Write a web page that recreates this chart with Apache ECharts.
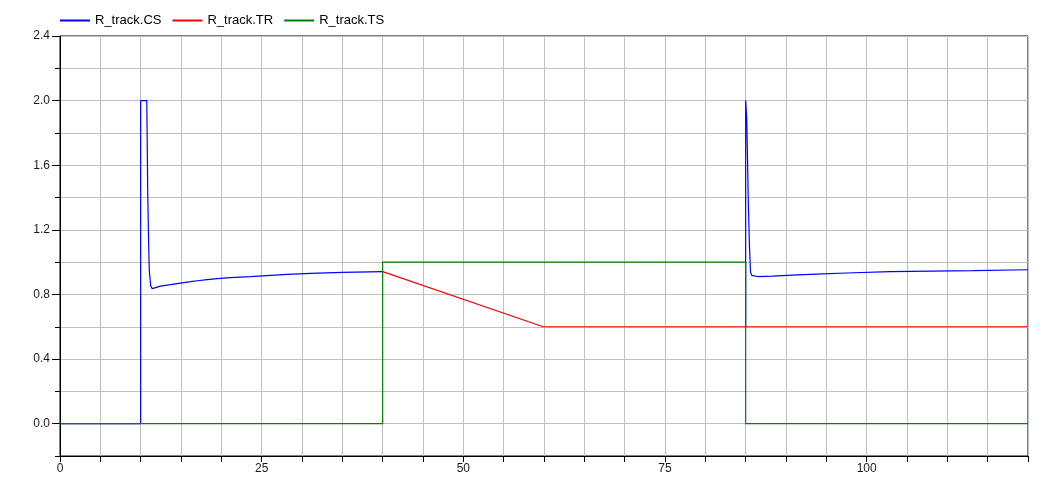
<!DOCTYPE html>
<html>
<head>
<meta charset="utf-8">
<script src="https://cdn.jsdelivr.net/npm/echarts@6/dist/echarts.min.js"></script>
<style>html,body{margin:0;padding:0;background:#fff}#c{width:1052px;height:481px}</style>
</head>
<body>
<div id="c"></div>
<script>
const seriesNames = ['R_track.CS', 'R_track.TR', 'R_track.TS'];
const seriesColors = ['#0000ff', '#ff0000', '#008000'];

// null marks where CS is hidden under TR (tracking segment)
const csTime = [0, 10, 10, 10.76, 10.8, 10.88, 10.99, 11.07, 11.25, 11.43, 11.6, 12.46, 13.7, 14.5, 15.35, 16.2, 17.0, 18.25, 19.5, 21.1, 23.6, 26.1, 28.2, 31.05, 35.0, 40.0,
  60.0, 85.0, 85.0, 85.13, 85.13, 85.22, 85.31, 85.47, 85.6, 85.75, 85.97, 86.5, 88.3, 90.8, 93.7, 97.5, 102.9, 113.2, 120];
const csValue = [0, 0, 2.0, 2.0, 1.80, 1.41, 1.12, 0.945, 0.852, 0.836, 0.838, 0.852, 0.861, 0.867, 0.873, 0.879, 0.885, 0.892, 0.898, 0.904, 0.910, 0.918, 0.924, 0.931, 0.937, 0.941,
  null, 0.6, 2.0, 2.0, 1.89, 1.67, 1.41, 1.10, 0.94, 0.918, 0.91, 0.911, 0.914, 0.920, 0.926, 0.933, 0.941, 0.947, 0.953];

const trTime = [40.0, 59.9, 120];
const trValue = [0.941, 0.6, 0.6];

const tsTime = [0, 40, 40, 85, 85, 120];
const tsValue = [0, 0, 1, 1, 0, 0];

const yLabelValues = [0, 0.4, 0.8, 1.2, 1.6, 2.0, 2.4];
const xLabelValues = [0, 25, 50, 75, 100];

function pairs(t, v) { return t.map((x, i) => (v[i] === null ? [x, '-'] : [x, v[i]])); }

const chart = echarts.init(document.getElementById('c'), null, { renderer: 'canvas' });
const labelFont = { color: '#1a1a1a', fontSize: 12, fontFamily: 'Liberation Sans, Arial, sans-serif' };

chart.setOption({
  animation: false,
  backgroundColor: '#ffffff',
  legend: {
    left: 60, top: 14, padding: 0,
    icon: 'rect', itemWidth: 30, itemHeight: 2, itemGap: 11,
    textStyle: { color: '#000', fontSize: 13, fontFamily: 'Liberation Sans, Arial, sans-serif' },
    data: seriesNames
  },
  grid: { left: 60, right: 24, top: 36, bottom: 25, show: true, borderColor: '#000', borderWidth: 1 },
  xAxis: {
    type: 'value', min: 0, max: 120, interval: 5,
    axisLine: { show: true, onZero: false, lineStyle: { color: '#000', width: 1 } },
    axisTick: { show: true, inside: false, length: 6, lineStyle: { color: '#000' } },
    axisLabel: Object.assign({ margin: 7, formatter: v => (xLabelValues.indexOf(v) >= 0 ? String(v) : '') }, labelFont),
    splitLine: { show: true, lineStyle: { color: '#c0c0c0', width: 1 } }
  },
  yAxis: [{
    type: 'value', min: -0.2, max: 2.4, interval: 0.2,
    axisLine: { show: true, onZero: false, lineStyle: { color: '#000', width: 1 } },
    axisTick: { show: true, inside: false, length: 5, lineStyle: { color: '#000' } },
    axisLabel: { show: false },
    splitLine: { show: true, lineStyle: { color: '#c0c0c0', width: 1 } }
  }, {
    type: 'value', min: -0.2, max: 2.4, position: 'left',
    axisLine: { show: false, onZero: false },
    axisTick: { show: true, inside: false, length: 8, customValues: yLabelValues, lineStyle: { color: '#000' } },
    axisLabel: Object.assign({ margin: 10, customValues: yLabelValues, formatter: v => v.toFixed(1) }, labelFont),
    splitLine: { show: false }
  }],
  series: [
    { name: seriesNames[0], type: 'line', data: pairs(csTime, csValue), showSymbol: false, symbol: 'none', connectNulls: false, color: seriesColors[0], lineStyle: { width: 1.2, color: seriesColors[0] } },
    { name: seriesNames[1], type: 'line', data: pairs(trTime, trValue), showSymbol: false, symbol: 'none', color: seriesColors[1], lineStyle: { width: 1.2, color: seriesColors[1] } },
    { name: seriesNames[2], type: 'line', data: pairs(tsTime, tsValue), showSymbol: false, symbol: 'none', color: seriesColors[2], lineStyle: { width: 1.2, color: seriesColors[2] } }
  ]
});
</script>
</body>
</html>
